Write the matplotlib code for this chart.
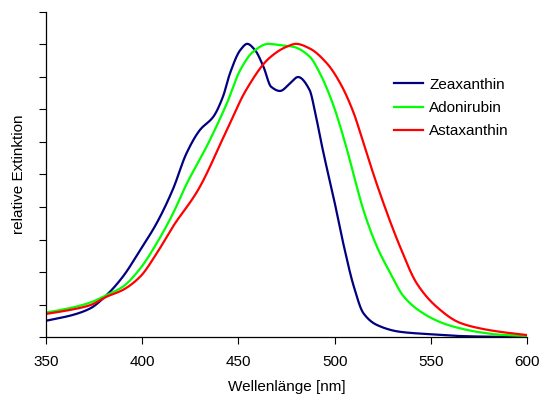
import matplotlib
matplotlib.use("Agg")
import matplotlib.pyplot as plt
import numpy as np

# Absorption spectra (relative extinction vs. wavelength in nm)
zea_wl = [350, 364, 373, 381.5, 390, 399, 407.5, 416, 423, 430, 437, 442, 445.6, 451,
          454.6, 458.6, 463, 467, 471.6, 476.8, 481, 487, 490, 493, 495, 499, 504.5,
          510, 515, 522, 534, 551, 565, 580, 600]
zea_val = [0.050, 0.068, 0.088, 0.129, 0.186, 0.268, 0.350, 0.455, 0.565, 0.637, 0.678,
           0.740, 0.811, 0.883, 0.902, 0.883, 0.832, 0.770, 0.757, 0.780, 0.800, 0.760,
           0.688, 0.600, 0.545, 0.442, 0.288, 0.155, 0.073, 0.037, 0.016, 0.008, 0.003,
           0.001, 0.000]

ado_wl = [350, 364, 373, 381.5, 390, 399, 407.5, 416, 423, 433.5, 444, 451, 457.7, 465.5,
          471.6, 478.5, 487, 492.4, 499, 506, 512, 515, 522, 529, 536, 546, 556.5, 565,
          575, 586, 600]
ado_val = [0.075, 0.091, 0.106, 0.129, 0.155, 0.211, 0.288, 0.380, 0.470, 0.586, 0.719,
           0.822, 0.878, 0.902, 0.898, 0.893, 0.863, 0.811, 0.719, 0.586, 0.452, 0.390,
           0.278, 0.196, 0.124, 0.073, 0.042, 0.027, 0.015, 0.007, 0.003]

ast_wl = [350, 364, 373, 381.5, 390, 399, 407.5, 416, 429, 444, 454, 466, 475, 480,
          487, 496, 503, 510, 515, 523, 534, 542.7, 553, 565, 576, 586, 600]
ast_val = [0.071, 0.085, 0.098, 0.124, 0.145, 0.186, 0.257, 0.340, 0.452, 0.637,
           0.760, 0.858, 0.893, 0.902, 0.888, 0.842, 0.780, 0.688, 0.596, 0.452,
           0.278, 0.165, 0.093, 0.044, 0.026, 0.016, 0.006]

series_names = ["Zeaxanthin", "Adonirubin", "Astaxanthin"]
series_colors = ["#000080", "#00FF00", "#FF0000"]

x_ticks = [350, 400, 450, 500, 550, 600]
y_ticks = [0.0, 0.1, 0.2, 0.3, 0.4, 0.5, 0.6, 0.7, 0.8, 0.9, 1.0]

plt.rcParams["font.family"] = ["Liberation Sans", "DejaVu Sans"]


def pchip(x, y, xs):
    """Monotone piecewise cubic Hermite interpolation."""
    x = np.asarray(x, float)
    y = np.asarray(y, float)
    h = np.diff(x)
    d = np.diff(y) / h
    m = np.zeros_like(y)
    for i in range(1, len(y) - 1):
        if d[i - 1] * d[i] > 0:
            w1 = 2 * h[i] + h[i - 1]
            w2 = h[i] + 2 * h[i - 1]
            m[i] = (w1 + w2) / (w1 / d[i - 1] + w2 / d[i])
    m[0] = d[0]
    m[-1] = d[-1]
    idx = np.clip(np.searchsorted(x, xs) - 1, 0, len(h) - 1)
    t = (xs - x[idx]) / h[idx]
    h00 = 2 * t**3 - 3 * t**2 + 1
    h10 = t**3 - 2 * t**2 + t
    h01 = -2 * t**3 + 3 * t**2
    h11 = t**3 - t**2
    return (h00 * y[idx] + h10 * h[idx] * m[idx] + h01 * y[idx + 1]
            + h11 * h[idx] * m[idx + 1])


fig = plt.figure(figsize=(5.41, 3.98), dpi=100)
ax = fig.add_axes([46 / 541, 1 - 337 / 398, (527 - 46) / 541, (337 - 12) / 398])

for wl, val, name, col in zip([zea_wl, ado_wl, ast_wl], [zea_val, ado_val, ast_val],
                              series_names, series_colors):
    xs = np.linspace(wl[0], wl[-1], 800)
    ax.plot(xs, pchip(wl, val, xs), color=col, lw=1.6, label=name)

ax.set_xlim(350, 600)
ax.set_ylim(0, 1.0)
ax.set_xticks(x_ticks)
ax.set_yticks(y_ticks)
ax.set_yticklabels([])
ax.tick_params(axis="both", direction="out", length=5, width=0.8, colors="#000000",
               labelsize=11)
ax.tick_params(axis="x", pad=8)
for s in ["top", "right"]:
    ax.spines[s].set_visible(False)
for s in ["left", "bottom"]:
    ax.spines[s].set_linewidth(0.9)

ax.set_xlabel("Wellenlänge [nm]", fontsize=11, labelpad=8)
ax.set_ylabel("relative Extinktion", fontsize=11, labelpad=6)

ax.legend(loc="upper left", bbox_to_anchor=(0.695, 0.84), frameon=False, fontsize=11,
          handlelength=1.9, handletextpad=0.4, labelspacing=0.6)

fig.savefig("out.png", dpi=100)
